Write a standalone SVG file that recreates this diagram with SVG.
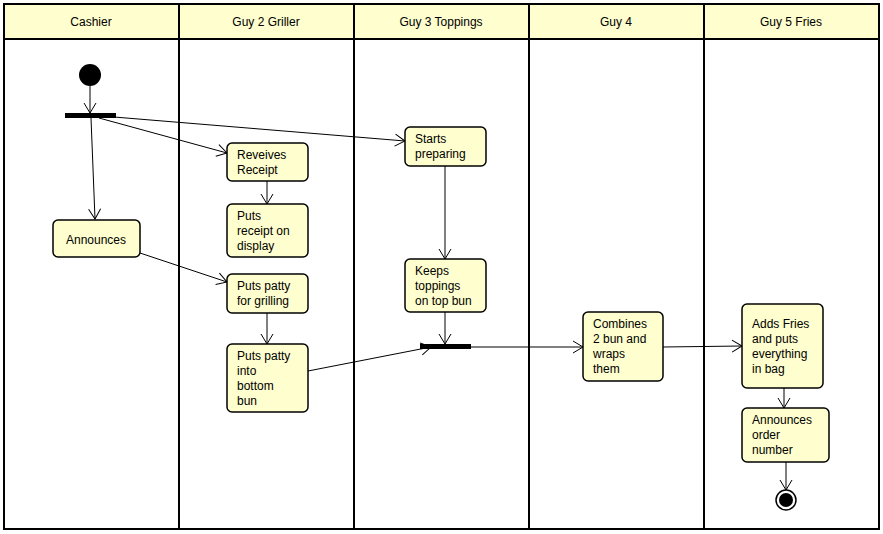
<svg xmlns="http://www.w3.org/2000/svg" width="883" height="534" viewBox="0 0 883 534">
<style>
text{font-family:"Liberation Sans",Arial,sans-serif;font-size:12px;fill:#000}
.hdr{fill:#FEFECE;stroke:#000;stroke-width:2}
.lane{fill:none;stroke:#000;stroke-width:2}
.node rect{fill:#FEFECE;stroke:#000;stroke-width:1.5}
.c{fill:none;stroke:#000;stroke-width:1;marker-end:url(#arr)}
.ht{text-anchor:middle}
</style>
<defs>
<marker id="arr" markerUnits="userSpaceOnUse" markerWidth="14" markerHeight="14" viewBox="0 0 14 14" refX="11" refY="7" orient="auto">
<path d="M1,1 L11,7 L1,13" fill="none" stroke="#000" stroke-width="1"/>
</marker>
</defs>
<rect x="0" y="0" width="883" height="534" fill="#fff"/>
<g id="lanes">
<rect class="hdr" x="4" y="4" width="875" height="35"/>
<rect class="lane" x="4" y="4" width="875" height="525"/>
<line class="lane" x1="179" y1="4" x2="179" y2="529"/>
<line class="lane" x1="354" y1="4" x2="354" y2="529"/>
<line class="lane" x1="529" y1="4" x2="529" y2="529"/>
<line class="lane" x1="704" y1="4" x2="704" y2="529"/>
<text class="ht" x="91" y="26">Cashier</text>
<text class="ht" x="266" y="26">Guy 2 Griller</text>
<text class="ht" x="441" y="26">Guy 3 Toppings</text>
<text class="ht" x="616" y="26">Guy 4</text>
<text class="ht" x="791" y="26">Guy 5 Fries</text>
</g>
<g id="connectors">
<line class="c" x1="90" y1="86" x2="90" y2="113"/>
<line class="c" x1="91" y1="118" x2="95" y2="219"/>
<line class="c" x1="99" y1="118" x2="227" y2="153"/>
<line class="c" x1="114" y1="117" x2="405" y2="141"/>
<line class="c" x1="267" y1="181" x2="267" y2="204"/>
<line class="c" x1="140" y1="253" x2="227" y2="282"/>
<line class="c" x1="267" y1="313" x2="267" y2="344"/>
<line class="c" x1="308" y1="371" x2="431" y2="347"/>
<line class="c" x1="445" y1="166" x2="445" y2="259"/>
<line class="c" x1="445" y1="312" x2="445" y2="344"/>
<line class="c" x1="471" y1="347" x2="583" y2="347"/>
<line class="c" x1="663" y1="347" x2="742" y2="346"/>
<line class="c" x1="784" y1="388" x2="784" y2="408"/>
<line class="c" x1="786" y1="462" x2="786" y2="490"/>
</g>
<g id="start"><circle cx="90" cy="75" r="11" fill="#000"/></g>
<g id="fork"><rect x="65" y="113" width="51" height="5" fill="#000"/></g>
<g id="join"><rect x="420" y="344" width="51" height="5" fill="#000"/></g>
<g id="end"><circle cx="786" cy="500" r="10" fill="#fff" stroke="#000" stroke-width="1.5"/><circle cx="786" cy="500" r="7" fill="#000"/></g>
<g id="announces" class="node"><rect x="53" y="220" width="87" height="37" rx="5"/><text x="66" y="244">Announces</text></g>
<g id="receives" class="node"><rect x="227" y="143" width="81" height="38" rx="5"/><text x="237" y="159">Reveives</text><text x="237" y="174">Receipt</text></g>
<g id="display" class="node"><rect x="227" y="204" width="81" height="53" rx="5"/><text x="237" y="220">Puts</text><text x="237" y="235">receipt on</text><text x="237" y="250">display</text></g>
<g id="grilling" class="node"><rect x="227" y="274" width="81" height="39" rx="5"/><text x="237" y="290">Puts patty</text><text x="237" y="305">for grilling</text></g>
<g id="bottombun" class="node"><rect x="227" y="344" width="81" height="68" rx="5"/><text x="237" y="360">Puts patty</text><text x="237" y="375">into</text><text x="237" y="390">bottom</text><text x="237" y="405">bun</text></g>
<g id="starts" class="node"><rect x="405" y="127" width="81" height="39" rx="5"/><text x="415" y="143">Starts</text><text x="415" y="158">preparing</text></g>
<g id="keeps" class="node"><rect x="405" y="259" width="81" height="53" rx="5"/><text x="415" y="275">Keeps</text><text x="415" y="290">toppings</text><text x="415" y="305">on top bun</text></g>
<g id="combines" class="node"><rect x="583" y="312" width="80" height="69" rx="5"/><text x="593" y="328">Combines</text><text x="593" y="343">2 bun and</text><text x="593" y="358">wraps</text><text x="593" y="373">them</text></g>
<g id="fries" class="node"><rect x="742" y="304" width="81" height="84" rx="5"/><text x="752" y="328">Adds Fries</text><text x="752" y="343">and puts</text><text x="752" y="358">everything</text><text x="752" y="373">in bag</text></g>
<g id="announceorder" class="node"><rect x="742" y="408" width="87" height="54" rx="5"/><text x="752" y="424">Announces</text><text x="752" y="439">order</text><text x="752" y="454">number</text></g>
</svg>
